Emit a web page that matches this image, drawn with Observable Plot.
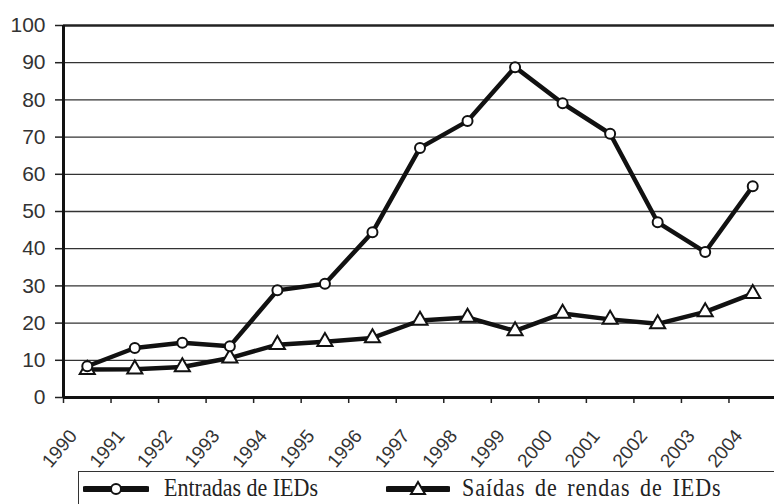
<!DOCTYPE html>
<html>
<head>
<meta charset="utf-8">
<script src="https://cdn.jsdelivr.net/npm/d3@7"></script>
<script src="https://cdn.jsdelivr.net/npm/@observablehq/plot@0.6"></script>
<style>
  html, body { margin: 0; padding: 0; background: #fff; overflow: hidden; width: 774px; height: 504px; }
  #chart svg { display: block; overflow: visible; }
  #legend {
    position: absolute; left: 78px; top: 471px; width: 720px; height: 60px;
    border: 1.3px solid #333; box-sizing: border-box;
    font-family: "Liberation Serif", "Times New Roman", serif; font-size: 22px; color: #222;
  }
  .item { position: absolute; top: 0px; display: flex; align-items: center; height: 34px; }
  .item span { margin-left: 15px; display: inline-block; transform: scaleY(1.12); transform-origin: 50% 70%; }
  .item span.wide { margin-left: 12px; letter-spacing: 1px; word-spacing: 3px; }
</style>
</head>
<body>
<div id="chart"></div>
<div id="legend">
  <div class="item" style="left:4px">
    <svg width="66" height="20"><line x1="2" y1="10" x2="64" y2="10" stroke="#111" stroke-width="6" stroke-linecap="round"/><circle cx="33" cy="10" r="5" fill="#fff" stroke="#111" stroke-width="2"/></svg>
    <span>Entradas de IEDs</span>
  </div>
  <div class="item" style="left:307px">
    <svg width="64" height="20"><line x1="2" y1="10" x2="62" y2="10" stroke="#111" stroke-width="6" stroke-linecap="round"/><path d="M32,3 L39,15 L25,15 Z" fill="#fff" stroke="#111" stroke-width="2"/></svg>
    <span class="wide">Saídas de rendas de IEDs</span>
  </div>
</div>
<script>
const years = ["1990","1991","1992","1993","1994","1995","1996","1997","1998","1999","2000","2001","2002","2003","2004"];
const entradas = [8.4, 13.3, 14.7, 13.8, 28.8, 30.6, 44.4, 67.1, 74.3, 88.8, 79.1, 70.9, 47.1, 39.1, 56.8];
const saidas = [7.5, 7.6, 8.2, 10.6, 14.2, 15.0, 16.0, 20.7, 21.5, 17.9, 22.6, 21.0, 19.8, 23.0, 27.9];
const yTicks = [0, 10, 20, 30, 40, 50, 60, 70, 80, 90, 100];

const rowsE = years.map((y, i) => ({pos: i + 0.5, value: entradas[i]}));
const rowsS = years.map((y, i) => ({pos: i + 0.5, value: saidas[i]}));
const boundaries = d3.range(0, years.length + 1);
const centers = years.map((y, i) => i + 0.5);

const chart = Plot.plot({
  width: 774,
  height: 471,
  marginLeft: 63,
  marginTop: 25,
  marginRight: 0,
  marginBottom: 74,
  style: {fontFamily: "'Liberation Sans', Arial, sans-serif", background: "#fff"},
  x: {domain: [0, years.length], range: [63, 776], axis: null},
  y: {domain: [0, 100], range: [397, 25], axis: null},
  marks: [
    Plot.gridY(yTicks.slice(1, -1), {stroke: "#333", strokeOpacity: 1, strokeWidth: 1.3}),
    Plot.ruleY([100], {stroke: "#222", strokeWidth: 2.4}),
    Plot.axisY(yTicks, {label: null, tickSize: 8, tickPadding: 10, fontSize: 21, fill: "#333", stroke: "#222", strokeWidth: 1.5}),
    Plot.axisX(boundaries, {label: null, tickSize: 6, tickFormat: () => "", stroke: "#222", strokeWidth: 1.5}),
    Plot.axisX(centers, {label: null, tickSize: 0, tickPadding: 0, tickRotate: -50, tickFormat: d => years[Math.round(d - 0.5)], fontSize: 19, fill: "#333", dx: -14, dy: 35}),
    Plot.ruleX([0], {y1: 0, y2: 100, stroke: "#111", strokeWidth: 3}),
    Plot.ruleY([0], {stroke: "#111", strokeWidth: 3}),
    Plot.line(rowsS, {x: "pos", y: "value", stroke: "#111", strokeWidth: 4.5}),
    Plot.line(rowsE, {x: "pos", y: "value", stroke: "#111", strokeWidth: 4.5}),
    Plot.dot(rowsS, {x: "pos", y: "value", symbol: "triangle", r: 5.6, fill: "#fff", stroke: "#111", strokeWidth: 2}),
    Plot.dot(rowsE, {x: "pos", y: "value", r: 5, fill: "#fff", stroke: "#111", strokeWidth: 2})
  ]
});
document.getElementById("chart").appendChild(chart);
</script>
</body>
</html>
